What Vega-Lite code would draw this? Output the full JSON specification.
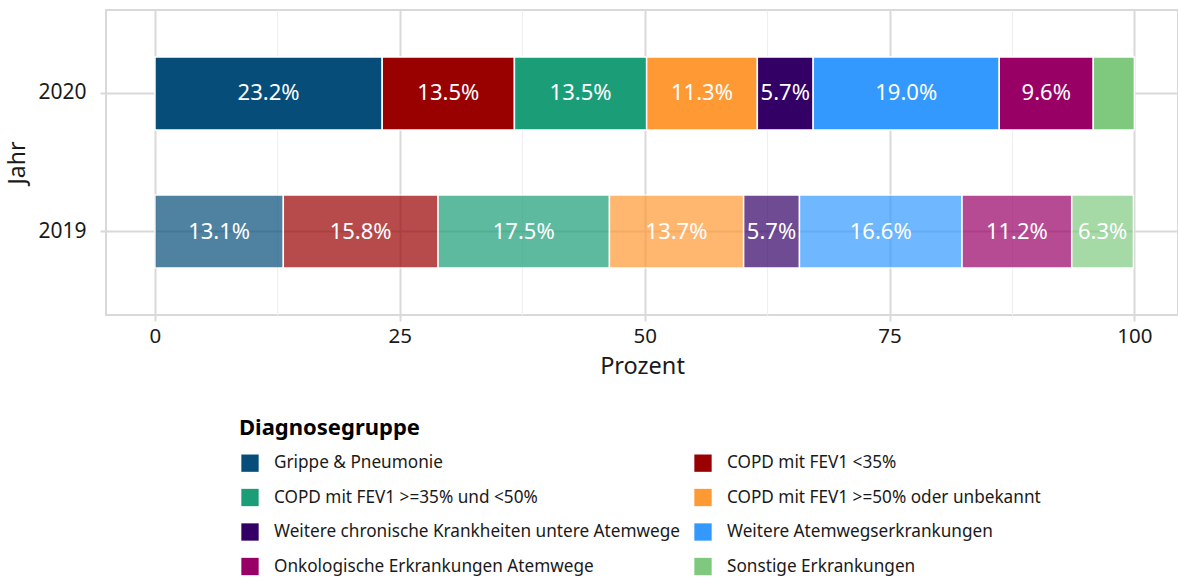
{
  "$schema": "https://vega.github.io/schema/vega-lite/v6.json",
  "width": 1072,
  "height": 305,
  "autosize": {"type": "none"},
  "padding": {"left": 106, "top": 10, "right": 0, "bottom": 264},
  "background": "white",
  "config": {
    "font": "Noto Sans",
    "view": {"stroke": "#d9d9d9", "strokeWidth": 2}
  },
  "data": {
    "values": [
      {"Jahr": "2020", "Nr": 1, "Gruppe": "Grippe & Pneumonie", "Prozent": 23.2},
      {"Jahr": "2020", "Nr": 2, "Gruppe": "COPD mit FEV1 <35%", "Prozent": 13.5},
      {"Jahr": "2020", "Nr": 3, "Gruppe": "COPD mit FEV1 >=35% und <50%", "Prozent": 13.5},
      {"Jahr": "2020", "Nr": 4, "Gruppe": "COPD mit FEV1 >=50% oder unbekannt", "Prozent": 11.3},
      {"Jahr": "2020", "Nr": 5, "Gruppe": "Weitere chronische Krankheiten untere Atemwege", "Prozent": 5.7},
      {"Jahr": "2020", "Nr": 6, "Gruppe": "Weitere Atemwegserkrankungen", "Prozent": 19.0},
      {"Jahr": "2020", "Nr": 7, "Gruppe": "Onkologische Erkrankungen Atemwege", "Prozent": 9.6},
      {"Jahr": "2020", "Nr": 8, "Gruppe": "Sonstige Erkrankungen", "Prozent": 4.2},
      {"Jahr": "2019", "Nr": 1, "Gruppe": "Grippe & Pneumonie", "Prozent": 13.1},
      {"Jahr": "2019", "Nr": 2, "Gruppe": "COPD mit FEV1 <35%", "Prozent": 15.8},
      {"Jahr": "2019", "Nr": 3, "Gruppe": "COPD mit FEV1 >=35% und <50%", "Prozent": 17.5},
      {"Jahr": "2019", "Nr": 4, "Gruppe": "COPD mit FEV1 >=50% oder unbekannt", "Prozent": 13.7},
      {"Jahr": "2019", "Nr": 5, "Gruppe": "Weitere chronische Krankheiten untere Atemwege", "Prozent": 5.7},
      {"Jahr": "2019", "Nr": 6, "Gruppe": "Weitere Atemwegserkrankungen", "Prozent": 16.6},
      {"Jahr": "2019", "Nr": 7, "Gruppe": "Onkologische Erkrankungen Atemwege", "Prozent": 11.2},
      {"Jahr": "2019", "Nr": 8, "Gruppe": "Sonstige Erkrankungen", "Prozent": 6.3}
    ]
  },
  "transform": [
    {"stack": "Prozent", "groupby": ["Jahr"], "sort": [{"field": "Nr", "order": "ascending"}], "as": ["x0", "x1"]},
    {"calculate": "(datum.x0 + datum.x1) / 2", "as": "xm"},
    {"calculate": "format(datum.Prozent, '.1f') + '%'", "as": "Label"}
  ],
  "encoding": {
    "y": {
      "field": "Jahr",
      "type": "nominal",
      "sort": ["2020", "2019"],
      "scale": {"paddingInner": 0.47, "paddingOuter": 0.34},
      "axis": {
        "title": "Jahr",
        "titleFontSize": 23,
        "titleFontWeight": "normal",
        "titleColor": "#1a1a1a",
        "titlePadding": 8,
        "labelFontSize": 21,
        "labelColor": "#1a1a1a",
        "labelPadding": 14,
        "tickSize": 6,
        "tickColor": "#d9d9d9",
        "tickWidth": 2,
        "domain": false,
        "grid": true,
        "gridColor": "#d9d9d9",
        "gridWidth": 2
      }
    }
  },
  "layer": [
    {
      "mark": {"type": "bar", "stroke": "white", "strokeWidth": 1.5},
      "encoding": {
        "x": {
          "field": "x0",
          "type": "quantitative",
          "scale": {"domain": [-5, 104.45], "nice": false, "zero": false},
          "axis": {
            "values": [0, 25, 50, 75, 100],
            "title": "Prozent",
            "titleFontSize": 23.5,
            "titleFontWeight": "normal",
            "titleColor": "#1a1a1a",
            "titlePadding": 8,
            "labelFontSize": 20.5,
            "labelColor": "#1a1a1a",
            "labelPadding": 5,
            "tickSize": 6,
            "tickColor": "#d9d9d9",
            "tickWidth": 2,
            "domain": false,
            "grid": true,
            "gridColor": "#d9d9d9",
            "gridWidth": 2
          }
        },
        "x2": {"field": "x1"},
        "color": {
          "field": "Gruppe",
          "type": "nominal",
          "sort": [
            "Grippe & Pneumonie",
            "COPD mit FEV1 <35%",
            "COPD mit FEV1 >=35% und <50%",
            "COPD mit FEV1 >=50% oder unbekannt",
            "Weitere chronische Krankheiten untere Atemwege",
            "Weitere Atemwegserkrankungen",
            "Onkologische Erkrankungen Atemwege",
            "Sonstige Erkrankungen"
          ],
          "scale": {
            "domain": [
              "Grippe & Pneumonie",
              "COPD mit FEV1 <35%",
              "COPD mit FEV1 >=35% und <50%",
              "COPD mit FEV1 >=50% oder unbekannt",
              "Weitere chronische Krankheiten untere Atemwege",
              "Weitere Atemwegserkrankungen",
              "Onkologische Erkrankungen Atemwege",
              "Sonstige Erkrankungen"
            ],
            "range": ["#064e79", "#990000", "#1b9e77", "#ff9933", "#330066", "#3399ff", "#990066", "#7fc97f"]
          },
          "legend": {
            "title": "Diagnosegruppe",
            "orient": "none",
            "legendX": 133,
            "legendY": 408,
            "direction": "horizontal",
            "columns": 2,
            "columnPadding": 12,
            "rowPadding": 16.5,
            "titleFontSize": 22,
            "titleFontWeight": "bold",
            "titleColor": "black",
            "titleLimit": 0,
            "titlePadding": 14,
            "labelFontSize": 17.2,
            "labelColor": "#1a1a1a",
            "labelOffset": 15,
            "labelLimit": 0,
            "symbolType": "square",
            "symbolSize": 300,
            "symbolStrokeWidth": 0,
            "symbolOpacity": 1,
            "symbolOffset": 2
          }
        },
        "opacity": {
          "field": "Jahr",
          "type": "nominal",
          "scale": {"domain": ["2020", "2019"], "range": [1, 0.7]},
          "legend": null
        }
      }
    },
    {
      "mark": {"type": "text", "color": "white", "fontSize": 22},
      "transform": [{"filter": "datum.Prozent >= 5"}],
      "encoding": {
        "x": {
          "field": "xm",
          "type": "quantitative",
          "axis": {
            "values": [12.5, 37.5, 62.5, 87.5],
            "labels": false,
            "ticks": false,
            "domain": false,
            "title": null,
            "grid": true,
            "gridColor": "#efefef",
            "gridWidth": 1.2,
            "orient": "bottom"
          }
        },
        "text": {"field": "Label"}
      }
    }
  ],
  "resolve": {"axis": {"x": "independent"}}
}
